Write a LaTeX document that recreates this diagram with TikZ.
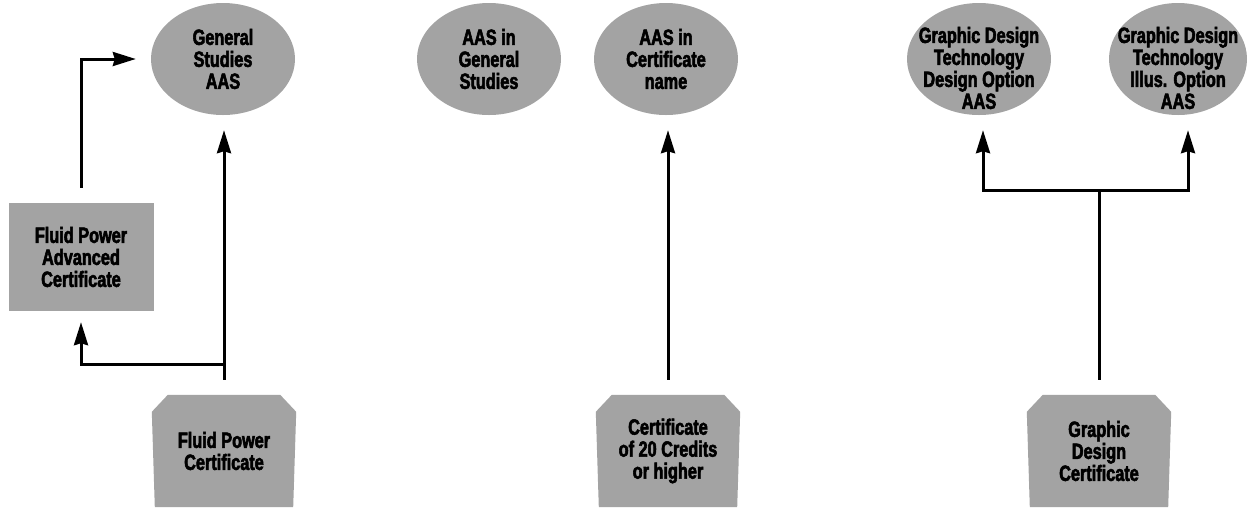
\documentclass[tikz,border=0pt]{standalone}
\usepackage{fontspec}
\newfontfamily\lblfont{Liberation Sans}[FakeStretch=0.74, FakeBold=2.5]
\usetikzlibrary{arrows.meta, backgrounds, shapes.geometric}
\definecolor{dotgray}{gray}{0.64}
\tikzset{degree/.style = {shape = ellipse, fill = dotgray, inner sep = -15pt, minimum width = 144pt, minimum height = 112pt, align = center, font = \lblfont\bfseries\fontsize{22}{22}\selectfont}}
\tikzset{certbox/.style = {shape = rectangle, fill = dotgray, inner sep = 0pt, minimum width = 145pt, minimum height = 108pt, align = center, font = \lblfont\bfseries\fontsize{22}{22}\selectfont}}
\tikzset{cert/.style = {shape = rectangle, inner sep = 0pt, minimum width = 144pt, minimum height = 112pt, align = center, font = \lblfont\bfseries\fontsize{22}{22}\selectfont}}
\tikzset{link/.style = {line width = 3pt, -{Stealth[length = 23pt, width = 14pt, inset = 2pt]}}}
\tikzset{stem/.style = {line width = 3pt}}
\newcommand{\lowline}{\rule{0pt}{34pt}}

\begin{document}
\begin{tikzpicture}[x = 1pt, y = -1pt]
	\useasboundingbox (0, 0) rectangle (1248, 507);

	% fluid power
	\node[degree] (gs) at (223, 59) {General\\Studies\\AAS};
	\node[certbox] (fpa) at (81, 257) {Fluid Power\\Advanced\\Certificate};
	\node[cert] (fp) at (224, 451) {Fluid Power\\Certificate};

	% general
	\node[degree] (aasgs) at (489, 59) {AAS in\\General\\Studies};
	\node[degree] (aascn) at (666, 59) {AAS in\\Certificate\\name};
	\node[cert] (c20) at (668, 451) {Certificate\\of 20 Credits\\or higher};

	% graphic design
	\node[degree] (gdd) at (979, 59) {\lowline Graphic Design\\Technology\\Design Option\\AAS};
	\node[degree, minimum width = 138pt] (gdi) at (1178, 59) {\lowline Graphic Design\\Technology\\Illus. Option\\AAS};
	\node[cert] (gd) at (1099, 451) {Graphic\\Design\\Certificate};

	\begin{scope}[on background layer]
		\foreach \c in {fp, c20, gd}
			\fill[dotgray] ([xshift = 3pt]\c.south west) -- ([yshift = -17pt]\c.north west) -- ([xshift = 16pt]\c.north west)
				-- ([xshift = -16pt]\c.north east) -- ([yshift = -17pt]\c.north east) -- ([xshift = -3pt]\c.south east) -- cycle;
	\end{scope}

	\coordinate (fpjoin) at ([yshift = 30pt]fp.north);
	\coordinate (gdjoin) at (gd.north |- 0, 190);

	\draw[link, shorten > = 15pt] ([yshift = 15pt]fp.north) -- (fp.north |- gs.south);
	\draw[link, shorten > = 11pt] (fpjoin) -| (fpa.south);
	\draw[link, shorten > = 15pt] ([yshift = 15pt]fpa.north) |- (gs.west);

	\draw[link, shorten > = 15pt] ([yshift = 15pt]c20.north) -- (c20.north |- aascn.south);

	\draw[stem] ([yshift = 15pt]gd.north) -- (gdjoin);
	\draw[link, shorten > = 15pt] (gdjoin) -| ([xshift = 4pt]gdd.south);
	\draw[link, shorten > = 15pt] (gdjoin) -| ([xshift = 10pt]gdi.south);
\end{tikzpicture}
\end{document}
